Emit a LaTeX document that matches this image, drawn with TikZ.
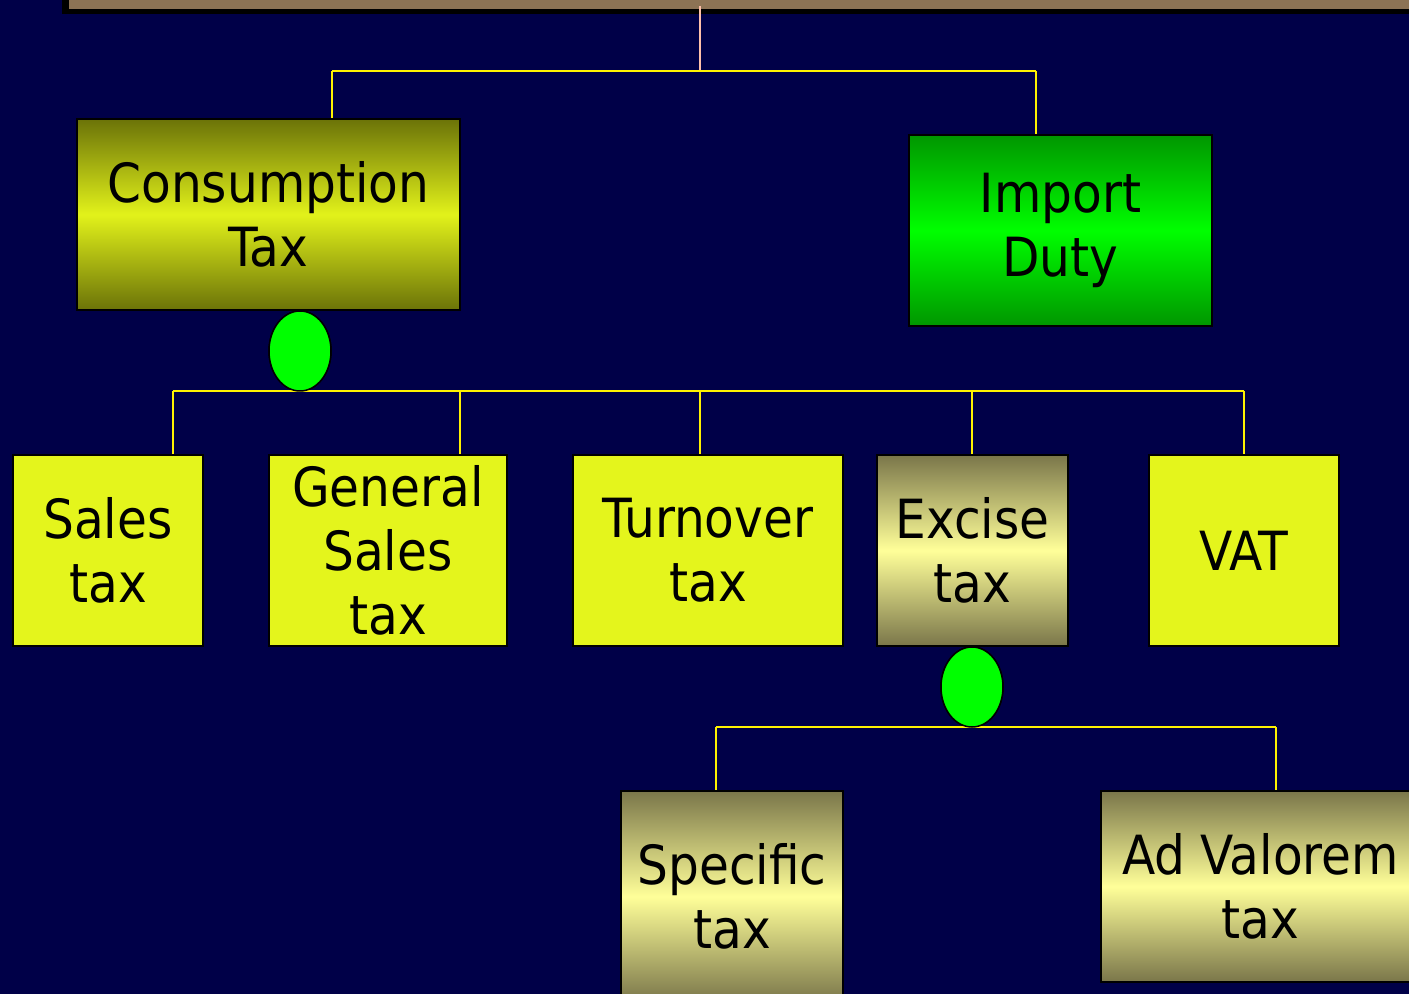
\documentclass[tikz,border=0pt]{standalone}
\usepackage{fontspec}
\setmainfont{DejaVu Sans Condensed}
\usetikzlibrary{shapes.geometric}
\definecolor{bg}{RGB}{0,0,72}
\definecolor{olivedark}{RGB}{107,115,8}
\definecolor{olivebright}{RGB}{226,242,26}
\definecolor{solidyellow}{RGB}{228,245,28}
\definecolor{khakidark}{RGB}{122,118,74}
\definecolor{khakilight}{RGB}{255,255,153}
\definecolor{greendark}{RGB}{0,150,0}
\definecolor{greenbright}{RGB}{0,255,0}
\definecolor{barbrown}{RGB}{140,115,85}
\definecolor{pinkline}{RGB}{255,192,170}
\tikzset{
  x=0.5pt, y=-0.5pt,
  box/.style={draw=black, line width=1pt, rectangle, inner sep=0pt, align=center,
    font=\fontsize{27}{32}\selectfont, text=black},
  oliveshade/.style={box, top color=olivedark, bottom color=olivedark, middle color=olivebright},
  greenshade/.style={box, top color=greendark, bottom color=greendark, middle color=greenbright},
  khakishade/.style={box, top color=khakidark, bottom color=khakidark, middle color=khakilight},
  flat/.style={box, fill=solidyellow},
  knot/.style={ellipse, draw=black, line width=0.75pt, fill=greenbright, minimum width=31pt, minimum height=40pt, inner sep=0pt},
  conn/.style={draw=yellow, line width=1pt},
}
\begin{document}
\begin{tikzpicture}
\fill[bg] (0,0) rectangle (1409,994);
\useasboundingbox (0,0) rectangle (1409,994);
% top bar
\fill[black] (62,-5) rectangle (1415,14);
\fill[barbrown] (69,-5) rectangle (1415,9);
% nodes
\node[oliveshade, minimum width=191.5pt, minimum height=95.5pt] (cons) at (268.5,214.5) {Consumption\\Tax};
\node[greenshade, minimum width=151.5pt, minimum height=95.5pt] (imp) at (1060.5,230.5) {Import\\Duty};
\node[flat, minimum width=95pt, minimum height=95.5pt] (sales) at (108,550.5) {Sales\\tax};
\node[flat, minimum width=119pt, minimum height=95.5pt] (gen) at (388,550.5) {General\\Sales\\tax};
\node[flat, minimum width=135pt, minimum height=95.5pt] (turn) at (708,550.5) {Turnover\\tax};
\node[khakishade, minimum width=95.5pt, minimum height=95.5pt] (exc) at (972.5,550.5) {Excise\\tax};
\node[flat, minimum width=95pt, minimum height=95.5pt] (vat) at (1244,550.5) {VAT};
\node[khakishade, minimum width=111pt, minimum height=105.5pt] (spec) at (732,896.5) {Specific\\tax};
\node[khakishade, minimum width=159.5pt, minimum height=95.5pt] (adv) at (1260.5,886.5) {Ad Valorem\\tax};
\node[knot] (k1) at (300,351) {};
\node[knot] (k2) at (972,687) {};
% connectors
\coordinate (bar) at (700,6);
\coordinate (j1) at (700,71);
\coordinate (l1) at (332,71);
\coordinate (r1) at (1036,71);
\draw[draw=pinkline, line width=0.6pt] (bar) -- (j1);
\draw[conn] (l1) -- (r1);
\draw[conn] (l1) -- (l1 |- cons.north);
\draw[conn] (r1) -- (r1 |- imp.north);
\coordinate (a1) at (173,391);
\coordinate (a2) at (460,391);
\coordinate (a3) at (700,391);
\coordinate (a4) at (972,391);
\coordinate (a5) at (1244,391);
\draw[conn] (a1) -- (a5);
\draw[conn] (a1) -- (a1 |- sales.north);
\draw[conn] (a2) -- (a2 |- gen.north);
\draw[conn] (a3) -- (a3 |- turn.north);
\draw[conn] (a4) -- (a4 |- exc.north);
\draw[conn] (a5) -- (a5 |- vat.north);
\coordinate (b1) at (716,727);
\coordinate (b2) at (1276,727);
\draw[conn] (b1) -- (b2);
\draw[conn] (b1) -- (b1 |- spec.north);
\draw[conn] (b2) -- (b2 |- adv.north);
\node[knot] at (k1) {};
\node[knot] at (k2) {};
\end{tikzpicture}
\end{document}
